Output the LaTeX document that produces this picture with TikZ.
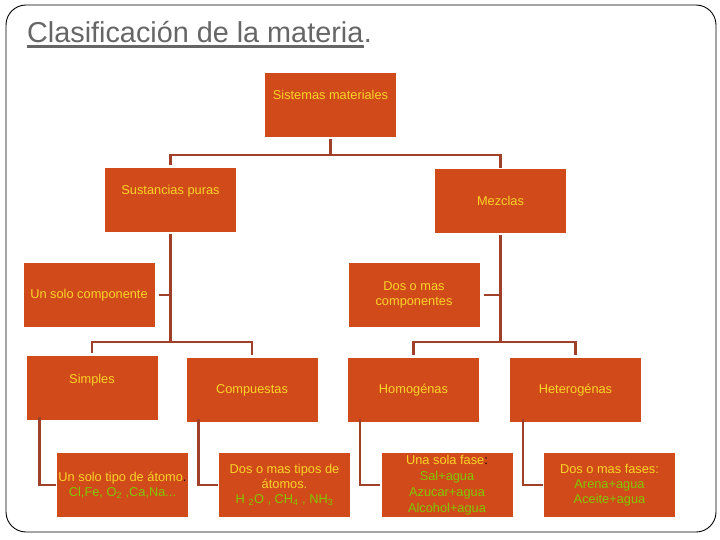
\documentclass[tikz,border=0pt]{standalone}
\usepackage{fontspec}
\setmainfont{Liberation Sans}
\usetikzlibrary{calc}
\definecolor{boxfill}{RGB}{209,74,26}
\definecolor{connclr}{RGB}{160,64,40}
\definecolor{ytext}{RGB}{250,212,40}
\definecolor{gtext}{RGB}{128,200,0}
\definecolor{titlegray}{RGB}{102,102,102}
\begin{document}
\begin{tikzpicture}[x=1pt,y=-1pt,
  box/.style={draw=none, fill=boxfill, minimum width=131pt, minimum height=64pt,
    inner sep=0pt, align=center, text=ytext, font=\fontsize{12.8}{15}\selectfont},
  conn/.style={draw=connclr, line width=2.4pt},
  frame/.style={draw=black, line width=0.9pt, rounded corners=20pt}]
\useasboundingbox (0,0) rectangle (720,540);
\draw[frame] (6,5) rectangle (716,532);

% title
\node[anchor=base west, inner sep=0pt, text=titlegray, font=\fontsize{28.8}{34}\selectfont] (t1) at (27,43) {Clasificación de la materia};
\node[anchor=base west, inner sep=0pt, text=titlegray, font=\fontsize{28.8}{34}\selectfont] (t2) at (t1.base east) {.};
\draw[titlegray, line width=2.8pt] ([yshift=-3.5pt]t1.base west) -- ([yshift=-3.5pt]t1.base east);

% boxes
\node[box] (sm) at (330.5,105) {Sistemas materiales\\[6pt]\mbox{}};
\node[box] (sp) at (170.5,200) {Sustancias puras\\[6pt]\mbox{}};
\node[box] (mz) at (500.5,201) {Mezclas};
\node[box] (usc) at (89,295) {Un solo componente};
\node[box] (dmc) at (414,295) {Dos o mas\\componentes};
\node[box] (si) at (92,388) {Simples\\[4pt]\mbox{}};
\node[box] (co) at (252,390) {Compuestas};
\node[box] (ho) at (413.5,390) {Homogénas};
\node[box] (he) at (575.5,390) {Heterogénas};
\node[box] (b1) at (122.5,485) {Un solo tipo de átomo\textcolor{black}{.}\\\textcolor{gtext}{Cl,Fe, O\textsubscript{2} ,Ca,Na...}};
\node[box] (b2) at (284.5,485) {Dos o mas tipos de\\átomos.\\\textcolor{gtext}{H \textsubscript{2}O , CH\textsubscript{4} , NH\textsubscript{3}}};
\node[box, font=\fontsize{12.8}{16}\selectfont] (b3) at (447,485) {Una sola fase\textcolor{black}{:}\\\textcolor{gtext}{Sal+agua}\\\textcolor{gtext}{Azucar+agua}\\\textcolor{gtext}{Alcohol+agua}};
\node[box] (b4) at (609.5,485) {Dos o mas fases:\\\textcolor{gtext}{Arena+agua}\\\textcolor{gtext}{Aceite+agua}};

% connectors level 1
\draw[conn] ([yshift=-2pt]sm.south) -- ++(0,16) coordinate (j1);
\draw[conn] ([yshift=3pt]sp.north) |- (j1) -| ([yshift=1pt]mz.north);

% sustancias puras branch
\draw[conn] ([yshift=-2pt]sp.south) -- ++(0,108) coordinate (j2);
\draw[conn] ([xshift=4pt]usc.east) -- (usc.east -| j2);
\draw[conn] ([yshift=3pt]si.north) |- (j2) -| ([yshift=3pt]co.north);

% mezclas branch
\draw[conn] ([yshift=-2pt]mz.south) -- ++(0,107) coordinate (j3);
\draw[conn] ([xshift=4pt]dmc.east) -- (dmc.east -| j3);
\draw[conn] ([yshift=3pt]ho.north) |- (j3) -| ([yshift=3pt]he.north);

% leaves
\draw[conn] ($(si.south west)+(13,-3)$) |- ([xshift=-1pt]b1.west);
\draw[conn] ($(co.south west)+(12,-3)$) |- ([xshift=-1pt]b2.west);
\draw[conn] ($(ho.south west)+(12,-3)$) |- ([xshift=-1pt]b3.west);
\draw[conn] ($(he.south west)+(13,-3)$) |- ([xshift=-1pt]b4.west);
\end{tikzpicture}
\end{document}
